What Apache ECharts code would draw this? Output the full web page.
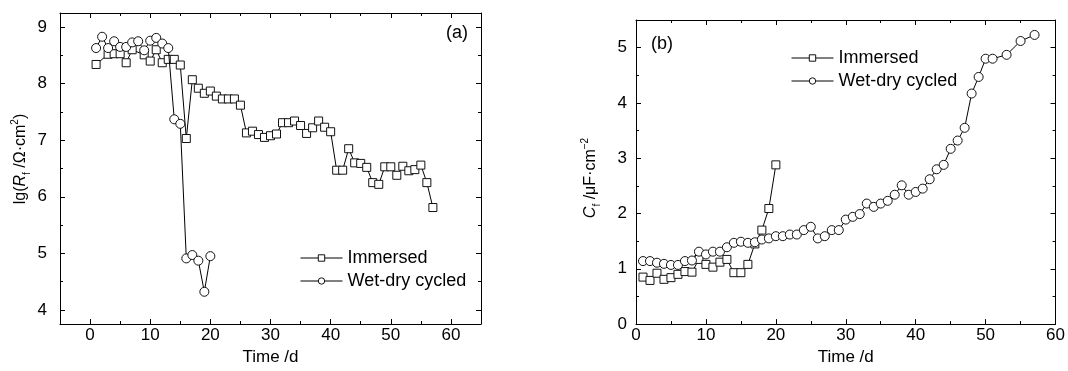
<!DOCTYPE html>
<html><head><meta charset="utf-8">
<script src="https://cdn.jsdelivr.net/npm/echarts@6/dist/echarts.min.js"></script>
<style>html,body{margin:0;padding:0;background:#fff}#c{width:1068px;height:371px}</style>
</head><body><div id="c"></div><script>
const FONT = '"Liberation Sans", Arial, Helvetica, sans-serif';

// ---- Data (a): lg(Rf) vs time ----
const daysImmA = [1,3,4,5,6,7,9,10,11,12,13,14,15,16,17,18,19,20,21,22,23,24,25,26,27,28,29,30,31,32,33,34,35,36,37,38,39,40,41,42,43,44,45,46,47,48,49,50,51,52,53,54,55,56,57];
const lgRfImmersed = [8.34,8.52,8.53,8.53,8.37,8.60,8.51,8.40,8.60,8.37,8.43,8.43,8.33,7.03,8.07,7.92,7.83,7.87,7.78,7.73,7.73,7.73,7.62,7.13,7.16,7.10,7.05,7.08,7.11,7.31,7.31,7.34,7.26,7.12,7.22,7.34,7.23,7.15,6.47,6.47,6.85,6.60,6.59,6.52,6.25,6.22,6.53,6.53,6.38,6.54,6.46,6.48,6.56,6.25,5.81];
const daysWetA = [1,2,3,4,5,6,7,8,9,10,11,12,13,14,15,16,17,18,19,20];
const lgRfWetDry = [8.63,8.83,8.63,8.75,8.65,8.65,8.73,8.75,8.59,8.76,8.81,8.71,8.63,7.37,7.29,4.91,4.97,4.87,4.32,4.95];

// ---- Data (b): Cf vs time ----
const daysImmB = [1,2,3,4,5,6,7,8,9,10,11,12,13,14,15,16,17,18,19,20];
const cfImmersed = [0.85,0.79,0.92,0.81,0.84,0.90,0.95,0.94,1.17,1.08,1.03,1.12,1.17,0.93,0.93,1.08,1.45,1.70,2.09,2.88];
const daysWetB = [1,2,3,4,5,6,7,8,9,10,11,12,13,14,15,16,17,18,19,20,21,22,23,24,25,26,27,28,29,30,31,32,33,34,35,36,37,38,39,40,41,42,43,44,45,46,47,48,49,50,51,53,55,57];
const cfWetDry = [1.14,1.14,1.11,1.09,1.07,1.07,1.14,1.15,1.31,1.26,1.31,1.31,1.39,1.47,1.49,1.47,1.48,1.53,1.55,1.59,1.59,1.62,1.62,1.70,1.76,1.55,1.59,1.70,1.70,1.89,1.94,1.99,2.18,2.12,2.18,2.23,2.34,2.51,2.34,2.39,2.45,2.62,2.80,2.88,3.17,3.32,3.55,4.17,4.47,4.80,4.80,4.87,5.12,5.23];

// ---- Tick values ----
const timeTicks = [0,10,20,30,40,50,60];
const timeMinorTicks = [5,15,25,35,45,55];
const lgTicks = [4,5,6,7,8,9];
const lgMinorTicks = [4.5,5.5,6.5,7.5,8.5];
const cfTicks = [0,1,2,3,4,5];
const cfMinorTicks = [0.5,1.5,2.5,3.5,4.5];

const seriesNames = ['Immersed','Wet-dry cycled'];

function zip(a,b){ return a.map((v,i)=>[v,b[i]]); }

function frameAxes(dim, gi, min, max, majors, minors, labelMargin, nameOpt){
  const pos = dim==='x' ? ['bottom','top'] : ['left','right'];
  const base = p => ({type:'value', gridIndex:gi, min:min, max:max, position:p,
    splitLine:{show:false}, axisPointer:{show:false},
    axisLine:{show:true, onZero:false, lineStyle:{color:'#000', width:1}}});
  const tick = (vals,len) => ({show:true, inside:true, length:len, customValues:vals, lineStyle:{color:'#000', width:1}});
  const main = Object.assign(base(pos[0]), {
    axisTick: tick(majors,5),
    axisLabel: {show:true, customValues:majors, fontSize:17, color:'#000', fontFamily:FONT, margin:labelMargin}
  }, nameOpt||{});
  const minor = Object.assign(base(pos[0]), {axisLine:{show:false,onZero:false}, axisTick: tick(minors,3), axisLabel:{show:false}});
  const oMain = Object.assign(base(pos[1]), {axisTick: tick(majors,5), axisLabel:{show:false}});
  const oMinor = Object.assign(base(pos[1]), {axisLine:{show:false,onZero:false}, axisTick: tick(minors,3), axisLabel:{show:false}});
  return [main, minor, oMain, oMinor];
}

const xName = {name:'Time /d', nameLocation:'middle', nameGap:22, nameTextStyle:{fontSize:17, color:'#000', fontFamily:FONT}};

const xAxes = [].concat(
  frameAxes('x',0,-5,65,timeTicks,timeMinorTicks,3,xName),
  frameAxes('x',1,0,60,timeTicks,timeMinorTicks,3,xName)
);
const yAxes = [].concat(
  frameAxes('y',0,3.75,9.25,lgTicks,lgMinorTicks,13),
  frameAxes('y',1,0,5.5,cfTicks,cfMinorTicks,9)
);

function lineSeries(name, xi, yi, data, sym, size){
  return {type:'line', name:name, xAxisIndex:xi, yAxisIndex:yi, data:data,
    symbol:sym, symbolSize:size, showAllSymbol:true, z: sym==='circle'?3:2,
    lineStyle:{color:'#000', width:1},
    itemStyle:{color:'#fff', borderColor:'#111', borderWidth:1},
    emphasis:{disabled:true}};
}

const legendCommon = {orient:'vertical', itemWidth:42, itemHeight:8, itemGap:5, selectedMode:false,
  textStyle:{fontSize:18, color:'#000', fontFamily:FONT},
  itemStyle:{color:'#fff', borderColor:'#111', borderWidth:1},
  lineStyle:{color:'#000', width:1},
  data: seriesNames};

const richCommon = {
  n:{fontSize:16, fontFamily:FONT, fill:'#000', lineHeight:22},
  i:{fontSize:16, fontFamily:FONT, fontStyle:'italic', fill:'#000', lineHeight:22},
  sub:{fontSize:10, fontFamily:FONT, fill:'#000', verticalAlign:'bottom', lineHeight:10},
  sup:{fontSize:10, fontFamily:FONT, fill:'#000', verticalAlign:'top', lineHeight:10}
};

const option = {
  animation:false,
  backgroundColor:'#fff',
  grid:[
    {left:60, top:13, width:421, height:311},
    {left:636, top:20, width:421, height:310}
  ],
  xAxis: xAxes,
  yAxis: yAxes,
  legend:[
    Object.assign({left:295, top:244}, legendCommon),
    Object.assign({left:786, top:44}, legendCommon)
  ],
  graphic:[
    {type:'text', x:21, y:159, rotation:Math.PI/2, style:{text:'{n|lg(}{i|R}{sub|f}{n| /Ω·cm}{sup|2}{n|)}', rich:richCommon, align:'center', verticalAlign:'middle'}},
    {type:'text', x:591, y:178, rotation:Math.PI/2, style:{text:'{i|C}{sub|f}{n| /μF·cm}{sup|−2}', rich:richCommon, align:'center', verticalAlign:'middle'}},
    {type:'text', x:457, y:33, style:{text:'(a)', fontSize:18, fontFamily:FONT, fill:'#000', align:'center', verticalAlign:'middle'}},
    {type:'text', x:662, y:44, style:{text:'(b)', fontSize:18, fontFamily:FONT, fill:'#000', align:'center', verticalAlign:'middle'}}
  ],
  series:[
    lineSeries('Immersed',0,0,zip(daysImmA,lgRfImmersed),'rect',8),
    lineSeries('Wet-dry cycled',0,0,zip(daysWetA,lgRfWetDry),'circle',9),
    lineSeries('Immersed',4,4,zip(daysImmB,cfImmersed),'rect',8),
    lineSeries('Wet-dry cycled',4,4,zip(daysWetB,cfWetDry),'circle',9)
  ]
};
const chart = echarts.init(document.getElementById('c'), null, {renderer:'canvas'});
chart.setOption(option);
</script></body></html>
